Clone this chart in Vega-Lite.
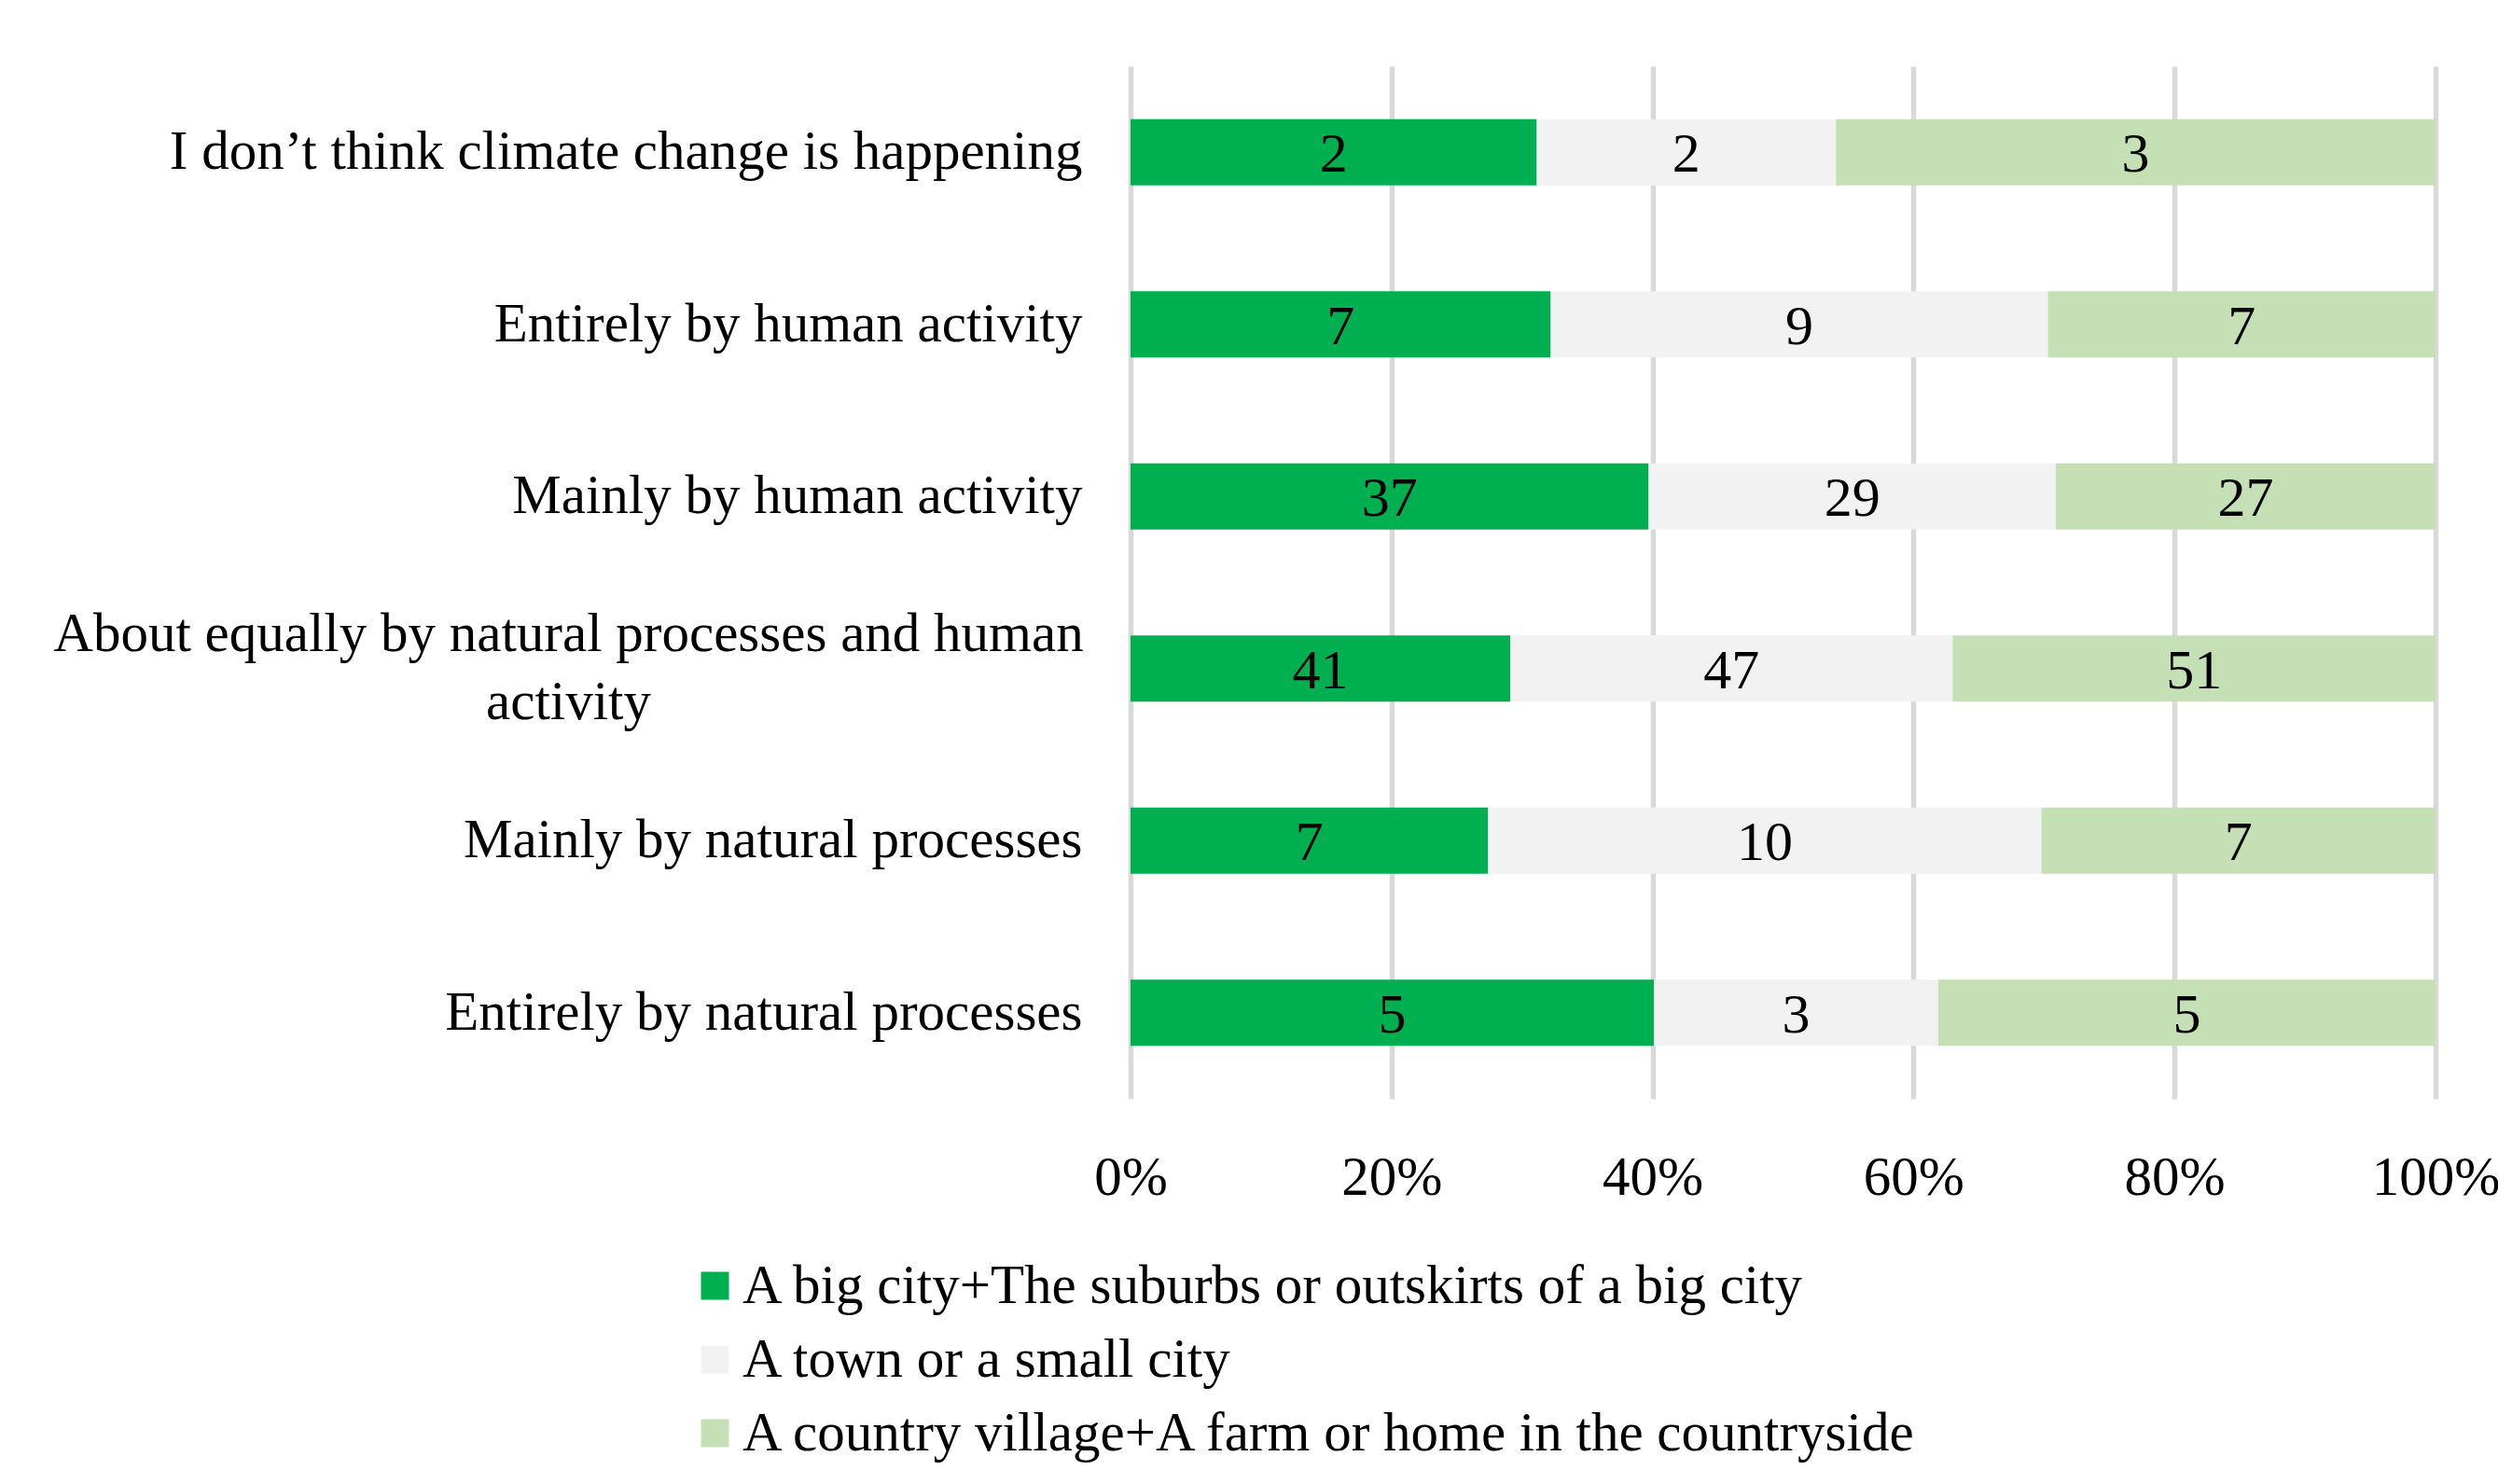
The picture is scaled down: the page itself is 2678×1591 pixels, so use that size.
{
  "$schema": "https://vega.github.io/schema/vega-lite/v6.json",
  "width": 1399,
  "height": 1107,
  "autosize": {"type": "none"},
  "padding": {"left": 1212, "top": 71, "right": 67, "bottom": 413},
  "background": "white",
  "config": {"view": {"stroke": null}, "font": "Liberation Serif"},
  "data": {
    "values": [
      {"cause": "I don’t think climate change is happening", "area": "A big city+The suburbs or outskirts of a big city", "o": 1, "share": 31.1, "n": 2},
      {"cause": "I don’t think climate change is happening", "area": "A town or a small city", "o": 2, "share": 22.9, "n": 2},
      {"cause": "I don’t think climate change is happening", "area": "A country village+A farm or home in the countryside", "o": 3, "share": 45.9, "n": 3},
      {"cause": "Entirely by human activity", "area": "A big city+The suburbs or outskirts of a big city", "o": 1, "share": 32.2, "n": 7},
      {"cause": "Entirely by human activity", "area": "A town or a small city", "o": 2, "share": 38.1, "n": 9},
      {"cause": "Entirely by human activity", "area": "A country village+A farm or home in the countryside", "o": 3, "share": 29.7, "n": 7},
      {"cause": "Mainly by human activity", "area": "A big city+The suburbs or outskirts of a big city", "o": 1, "share": 39.7, "n": 37},
      {"cause": "Mainly by human activity", "area": "A town or a small city", "o": 2, "share": 31.2, "n": 29},
      {"cause": "Mainly by human activity", "area": "A country village+A farm or home in the countryside", "o": 3, "share": 29.1, "n": 27},
      {"cause": "About equally by natural processes and human activity", "area": "A big city+The suburbs or outskirts of a big city", "o": 1, "share": 29.1, "n": 41},
      {"cause": "About equally by natural processes and human activity", "area": "A town or a small city", "o": 2, "share": 33.9, "n": 47},
      {"cause": "About equally by natural processes and human activity", "area": "A country village+A farm or home in the countryside", "o": 3, "share": 37.0, "n": 51},
      {"cause": "Mainly by natural processes", "area": "A big city+The suburbs or outskirts of a big city", "o": 1, "share": 27.4, "n": 7},
      {"cause": "Mainly by natural processes", "area": "A town or a small city", "o": 2, "share": 42.4, "n": 10},
      {"cause": "Mainly by natural processes", "area": "A country village+A farm or home in the countryside", "o": 3, "share": 30.2, "n": 7},
      {"cause": "Entirely by natural processes", "area": "A big city+The suburbs or outskirts of a big city", "o": 1, "share": 40.1, "n": 5},
      {"cause": "Entirely by natural processes", "area": "A town or a small city", "o": 2, "share": 21.8, "n": 3},
      {"cause": "Entirely by natural processes", "area": "A country village+A farm or home in the countryside", "o": 3, "share": 38.1, "n": 5}
    ]
  },
  "encoding": {
    "y": {
      "field": "cause",
      "type": "nominal",
      "sort": [
        "I don’t think climate change is happening",
        "Entirely by human activity",
        "Mainly by human activity",
        "About equally by natural processes and human activity",
        "Mainly by natural processes",
        "Entirely by natural processes"
      ],
      "scale": {"paddingInner": 0.615, "paddingOuter": 0.3075},
      "axis": {
        "title": null,
        "domain": false,
        "ticks": false,
        "grid": false,
        "labelFont": "Liberation Serif",
        "labelFontSize": 59,
        "labelColor": "black",
        "labelLimit": 0,
        "labelLineHeight": 73,
        "labelBaseline": "middle",
        "labelPadding": {"condition": {"test": "datum.value === 'About equally by natural processes and human activity'", "value": 603}, "value": 52},
        "labelAlign": {"condition": {"test": "datum.value === 'About equally by natural processes and human activity'", "value": "center"}, "value": "right"},
        "labelOffset": {"condition": {"test": "datum.value === 'About equally by natural processes and human activity'", "value": -37}, "value": 0},
        "labelExpr": "datum.value === 'About equally by natural processes and human activity' ? ['About equally by natural processes and human', 'activity'] : datum.label"
      }
    },
    "x": {
      "field": "share",
      "type": "quantitative",
      "stack": "normalize",
      "scale": {"domain": [0, 1], "nice": false},
      "axis": {
        "title": null,
        "domain": false,
        "ticks": false,
        "grid": true,
        "gridColor": "#d9d9d9",
        "gridWidth": 5.5,
        "values": [0, 0.2, 0.4, 0.6, 0.8, 1],
        "format": ".0%",
        "labelFont": "Liberation Serif",
        "labelFontSize": 59,
        "labelColor": "black",
        "labelPadding": 55,
        "labelFlush": false
      }
    },
    "order": {"field": "o", "type": "quantitative"}
  },
  "layer": [
    {
      "mark": {"type": "bar"},
      "encoding": {
        "color": {
          "field": "area",
          "type": "nominal",
          "scale": {
            "domain": [
              "A big city+The suburbs or outskirts of a big city",
              "A town or a small city",
              "A country village+A farm or home in the countryside"
            ],
            "range": ["#00b050", "#f2f2f2", "#c5e0b4"]
          },
          "legend": {
            "title": null,
            "orient": "none",
            "legendX": -475,
            "legendY": 1278,
            "direction": "vertical",
            "columns": 1,
            "padding": 0,
            "symbolType": "square",
            "symbolSize": 900,
            "symbolStrokeWidth": 0,
            "symbolOpacity": 1,
            "labelFont": "Liberation Serif",
            "labelFontSize": 59,
            "labelColor": "black",
            "labelLimit": 0,
            "labelOffset": 0,
            "rowPadding": 19
          }
        }
      }
    },
    {
      "mark": {"type": "text", "color": "black", "font": "Liberation Serif", "fontSize": 60, "baseline": "middle", "align": "center", "dy": 3},
      "encoding": {
        "x": {
          "field": "share",
          "type": "quantitative",
          "stack": "normalize",
          "bandPosition": 0.5,
          "scale": {"domain": [0, 1], "nice": false},
          "axis": {
            "title": null,
            "domain": false,
            "ticks": false,
            "grid": true,
            "gridColor": "#d9d9d9",
            "gridWidth": 5.5,
            "values": [0, 0.2, 0.4, 0.6, 0.8, 1],
            "format": ".0%",
            "labelFont": "Liberation Serif",
            "labelFontSize": 59,
            "labelColor": "black",
            "labelPadding": 55,
            "labelFlush": false
          }
        },
        "detail": {"field": "area", "type": "nominal"},
        "text": {"field": "n", "type": "quantitative"}
      }
    }
  ]
}
